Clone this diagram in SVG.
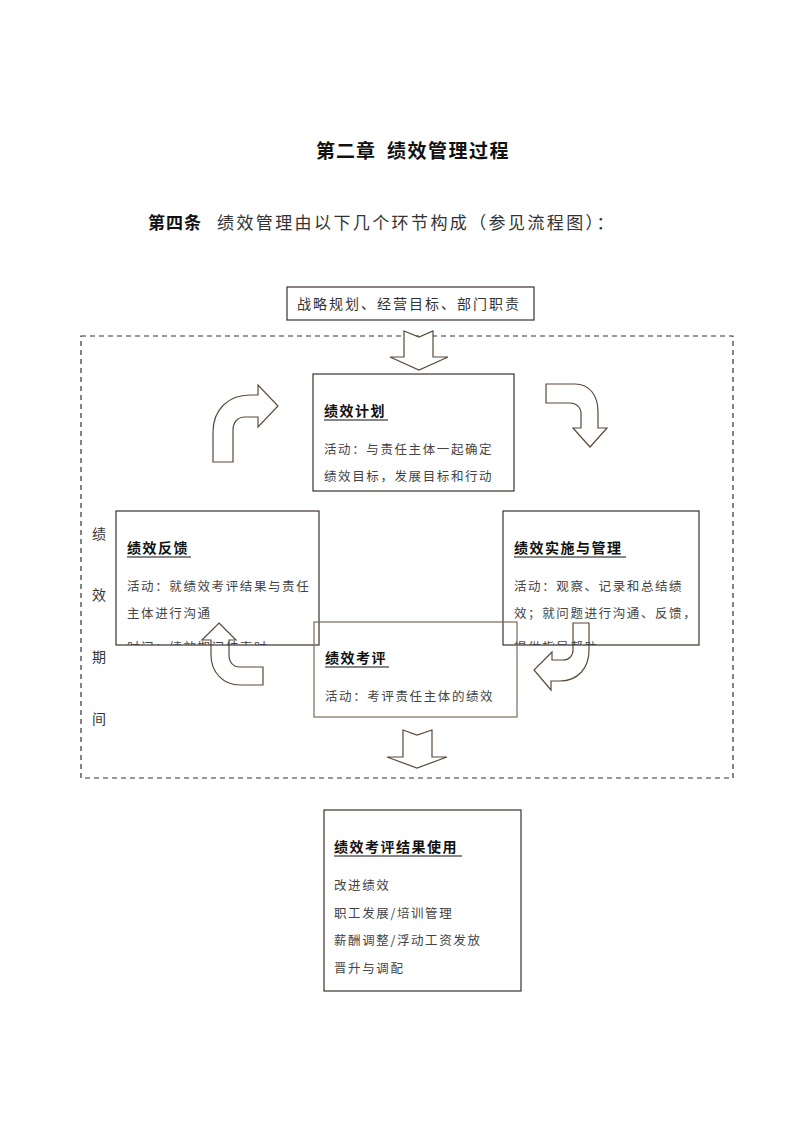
<svg xmlns="http://www.w3.org/2000/svg" width="800" height="1132" viewBox="0 0 800 1132">
<style>
text{font-family:"Noto Sans CJK SC","Noto Sans CJK JP",sans-serif;}
.h1{font-size:19px;font-weight:bold;fill:#111;letter-spacing:1px;}
.h2{font-size:17px;font-weight:bold;fill:#111;letter-spacing:1px;}
.lead{font-size:17px;fill:#333;letter-spacing:1.5px;}
.box{fill:none;stroke:#3b332b;stroke-width:1.2;}
.box2{fill:none;stroke:#7a6b5c;stroke-width:1.2;}
.bt{font-size:14px;font-weight:bold;fill:#111;letter-spacing:1.5px;}
.ul{stroke:#111;stroke-width:1.2;}
.tx{font-size:12.5px;fill:#444;letter-spacing:1.6px;}
.top{font-size:14px;fill:#333;letter-spacing:2px;}
.vt{font-size:14px;fill:#333;}
.arr{fill:#fff;stroke:#5a4a3a;stroke-width:1.2;stroke-linejoin:miter;}
.dash{fill:none;stroke:#333;stroke-width:1.2;stroke-dasharray:5,4;}
</style>
<defs>
<clipPath id="cFb"><rect x="116" y="511" width="203" height="134"/></clipPath>
<clipPath id="cSs"><rect x="503" y="511" width="196" height="134"/></clipPath>
</defs>

<text class="h1" x="316" y="158">第二章</text>
<text class="h1" x="387" y="158" style="letter-spacing:1.5px">绩效管理过程</text>
<text class="h2" x="148" y="229">第四条</text>
<text class="lead" x="217" y="229" style="letter-spacing:2.4px">绩效管理由以下几个环节构成（参见流程图）：</text>

<g id="dashed-period">
<rect class="dash" x="81" y="336" width="652" height="442"/>
<text class="vt" x="92" y="539">绩</text>
<text class="vt" x="92" y="600">效</text>
<text class="vt" x="92" y="662">期</text>
<text class="vt" x="92" y="724">间</text>
</g>

<g id="connectors">
<path class="arr" d="M404,331 L419,337 L433,331 L433,357 L448,357 L419,370 L390,357 L404,357 Z"/>
<path class="arr" d="M213,462 L213,432 C213,410 228,395 250,395 L258,395 L258,385 L278,406 L258,427 L258,417 L245,417 C238,417 233,422 233,430 L233,462 Z"/>
<path class="arr" d="M546,384 L575,384 C590,384 598,396 598,412 L598,428 L607,428 L590,447 L573,428 L581,428 L581,414 C581,407 576,403 570,403 L546,403 Z"/>
<path class="arr" d="M573,623 L589,623 L589,650 C589,668 578,681 560,681 L551,681 L551,690 L534,670 L552,652 L552,660 L563,660 C569,660 573,656 573,650 Z"/>
<path class="arr" d="M219,623 L236,640 L229,640 L229,655 C229,662 233,667 240,667 L263,667 L263,685 L240,685 C223,685 211,672 211,655 L211,640 L202,640 Z"/>
<path class="arr" d="M403,730 L417,735 L432,730 L432,757 L447,757 L417,768 L387,757 L403,757 Z"/>
</g>

<g id="node-strategy">
<rect class="box" x="287" y="287" width="247" height="33"/>
<text class="top" x="297" y="309">战略规划、经营目标、部门职责</text>
</g>

<g id="node-plan">
<rect class="box" x="313" y="374" width="201" height="117"/>
<text class="bt" x="324" y="416">绩效计划</text>
<line class="ul" x1="324" y1="420" x2="388" y2="420"/>
<text class="tx" x="324" y="454">活动：与责任主体一起确定</text>
<text class="tx" x="324" y="481">绩效目标，发展目标和行动</text>
</g>

<g id="node-feedback">
<rect class="box" x="116" y="511" width="203" height="134"/>
<text class="bt" x="127" y="553">绩效反馈</text>
<line class="ul" x1="127" y1="557" x2="191" y2="557"/>
<text class="tx" x="127" y="591">活动：就绩效考评结果与责任</text>
<text class="tx" x="127" y="618">主体进行沟通</text>
<text class="tx" x="127" y="652" clip-path="url(#cFb)">时间：绩效期间结束时</text>
</g>

<g id="node-implement">
<rect class="box" x="503" y="511" width="196" height="134"/>
<text class="bt" x="514" y="553">绩效实施与管理</text>
<line class="ul" x1="514" y1="557" x2="626" y2="557"/>
<text class="tx" x="514" y="591">活动：观察、记录和总结绩</text>
<text class="tx" x="514" y="618">效；就问题进行沟通、反馈，</text>
<text class="tx" x="514" y="652" clip-path="url(#cSs)">提供指导帮助</text>
</g>

<g id="node-appraisal">
<rect class="box2" x="314" y="622" width="203" height="95"/>
<text class="bt" x="325" y="663">绩效考评</text>
<line class="ul" x1="325" y1="667" x2="389" y2="667"/>
<text class="tx" x="325" y="701">活动：考评责任主体的绩效</text>
</g>

<g id="node-usage">
<rect class="box" x="324" y="810" width="197" height="181"/>
<text class="bt" x="334" y="852">绩效考评结果使用</text>
<line class="ul" x1="334" y1="856" x2="462" y2="856"/>
<text class="tx" x="334" y="890">改进绩效</text>
<text class="tx" x="334" y="918">职工发展/培训管理</text>
<text class="tx" x="334" y="945">薪酬调整/浮动工资发放</text>
<text class="tx" x="334" y="973">晋升与调配</text>
</g>
</svg>
